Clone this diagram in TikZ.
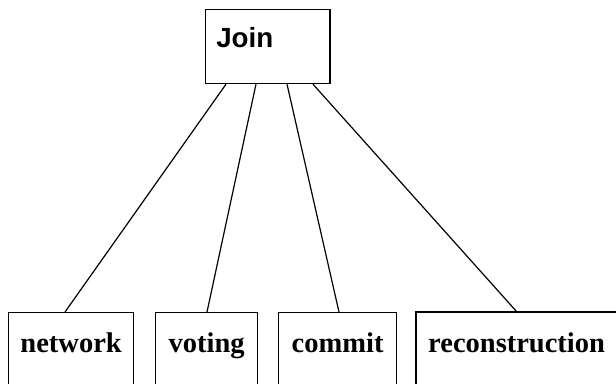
\documentclass[tikz,border=0pt]{standalone}
\usepackage{fontspec}
\newfontfamily\joinfont{Liberation Sans}
\newfontfamily\leaffont{Liberation Serif}
\usetikzlibrary{calc}
\begin{document}
\begin{tikzpicture}[x=1pt,y=-1pt,
  box/.style={draw, line width=1.2pt, inner ysep=0pt, inner xsep=11pt, anchor=north west},
  rootbox/.style={box, font=\joinfont\bfseries\fontsize{27.7}{30}\selectfont,
     text width=102.6pt, align=left, inner xsep=11pt, text height=38pt, text depth=36pt},
  leaf/.style={box, font=\leaffont\bfseries\fontsize{28.5}{30}\selectfont,
     text height=40pt, text depth=40pt, inner xsep=0pt},
  link/.style={line width=1.2pt}]
\useasboundingbox (0,0) rectangle (616,383);
\fill[white] (0,0) rectangle (616,383);
\node[rootbox] (join) at (204.7,9) {Join};
\node[leaf, minimum width=125pt] (net) at (8,312) {network};
\node[leaf, minimum width=102pt] (vot) at (155,312) {voting};
\node[leaf, minimum width=118pt] (com) at (278,312) {commit};
\node[leaf, draw=none, minimum width=200pt, text depth=31pt] (rec) at (416,312) {reconstruction};
\draw[link] (rec.south west) -- (rec.north west) -- (rec.north east);
\draw[link] ($(join.south west)+(21.3,0)$) -- ($(net.north west)+(57,0)$);
\draw[link] ($(join.south west)+(51.3,0)$) -- ($(vot.north west)+(52,0)$);
\draw[link] ($(join.south west)+(82.3,0)$) -- ($(com.north west)+(61,0)$);
\draw[link] ($(join.south west)+(108.3,0)$) -- ($(rec.north west)+(101,0)$);
\end{tikzpicture}
\end{document}
